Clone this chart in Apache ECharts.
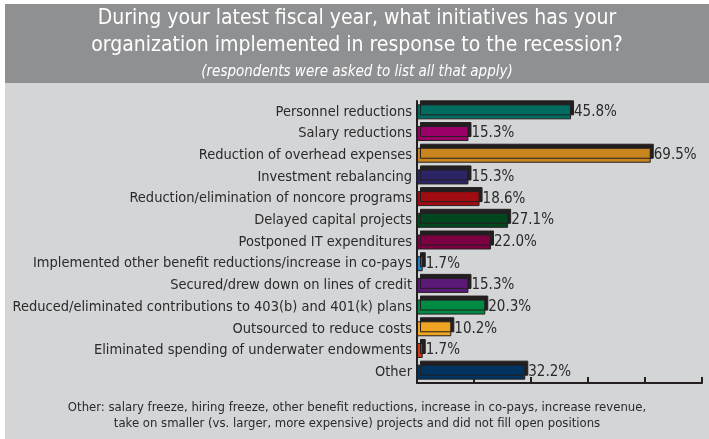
<!DOCTYPE html>
<html>
<head>
<meta charset="utf-8">
<script src="https://cdn.jsdelivr.net/npm/echarts@6/dist/echarts.min.js"></script>
<style>
  html, body { margin: 0; padding: 0; background: #ffffff; }
  #chart { width: 709px; height: 439px; }
</style>
</head>
<body>
<div id="chart"></div>
<script>
// Survey initiatives, share of respondents (%)
const categories = [
  'Personnel reductions',
  'Salary reductions',
  'Reduction of overhead expenses',
  'Investment rebalancing',
  'Reduction/elimination of noncore programs',
  'Delayed capital projects',
  'Postponed IT expenditures',
  'Implemented other benefit reductions/increase in co-pays',
  'Secured/drew down on lines of credit',
  'Reduced/eliminated contributions to 403(b) and 401(k) plans',
  'Outsourced to reduce costs',
  'Eliminated spending of underwater endowments',
  'Other'
];
const values = [45.8, 15.3, 69.5, 15.3, 18.6, 27.1, 22.0, 1.7, 15.3, 20.3, 10.2, 1.7, 32.2];
const barColors = [
  '#006c60', '#9a0068', '#c9861f', '#2b2465', '#a10b12', '#00461f', '#7d0042',
  '#1d84c6', '#5b1a77', '#008b45', '#efa521', '#cd3a1a', '#003360'
];
// Ticks every 10 of 59 respondents
const respondents = 59;
const tickStep = 10 / respondents * 100;
const axisMax = 5 * tickStep;

const titleLines = [
  'During your latest fiscal year, what initiatives has your',
  'organization implemented in response to the recession?'
];
const subText = '(respondents were asked to list all that apply)';
const noteLines = [
  'Other: salary freeze, hiring freeze, other benefit reductions, increase in co-pays, increase revenue,',
  'take on smaller (vs. larger, more expensive) projects and did not fill open positions'
];

const FONT = "'DejaVu Sans Condensed', 'Liberation Sans Narrow', sans-serif";
const INK = '#2a2a2a';

function centeredText(str, y, font, fill) {
  return {
    type: 'text', x: 357, y: y,
    style: { text: str, font: font, fill: fill, textAlign: 'center', textVerticalAlign: 'middle' }
  };
}

const chart = echarts.init(document.getElementById('chart'), null, { renderer: 'canvas' });

chart.setOption({
  animation: false,
  backgroundColor: '#ffffff',
  graphic: [
    { type: 'rect', z: -10, shape: { x: 5, y: 4, width: 704, height: 435 }, style: { fill: '#d4d5d7' } },
    { type: 'rect', z: -9, shape: { x: 5, y: 4, width: 704, height: 79 }, style: { fill: '#8f9092' } },
    centeredText(titleLines[0], 19, '21px ' + FONT, '#ffffff'),
    centeredText(titleLines[1], 46, '21px ' + FONT, '#ffffff'),
    centeredText(subText, 72, 'italic 15px ' + FONT, '#ffffff'),
    centeredText(noteLines[0], 408, '13px ' + FONT, INK),
    centeredText(noteLines[1], 424, '13px ' + FONT, INK)
  ],
  grid: { left: 417, right: 7, top: 101, bottom: 56, outerBoundsMode: 'none', containLabel: false },
  xAxis: {
    type: 'value',
    min: 0,
    max: axisMax,
    interval: tickStep,
    axisLine: { show: true, lineStyle: { color: '#231f20', width: 2 } },
    axisTick: { show: true, inside: true, length: 6, lineStyle: { color: '#231f20', width: 2 } },
    axisLabel: { show: false },
    splitLine: { show: false }
  },
  yAxis: {
    type: 'category',
    inverse: true,
    data: categories,
    axisLine: { show: true, lineStyle: { color: '#231f20', width: 2 } },
    axisTick: { show: false },
    axisLabel: { color: INK, fontFamily: FONT, fontSize: 14.5, margin: 5 }
  },
  series: [{
    type: 'bar',
    barWidth: 15,
    data: values.map((v, i) => ({
      value: v,
      itemStyle: {
        color: barColors[i],
        borderColor: '#231f20',
        borderWidth: 1,
        shadowColor: '#231f20',
        shadowBlur: 0,
        shadowOffsetX: 3,
        shadowOffsetY: -4
      }
    })),
    label: {
      show: true,
      position: 'right',
      distance: 3,
      formatter: p => p.value.toFixed(1) + '%',
      color: INK,
      fontFamily: FONT,
      fontSize: 15
    }
  }]
});
</script>
</body>
</html>
